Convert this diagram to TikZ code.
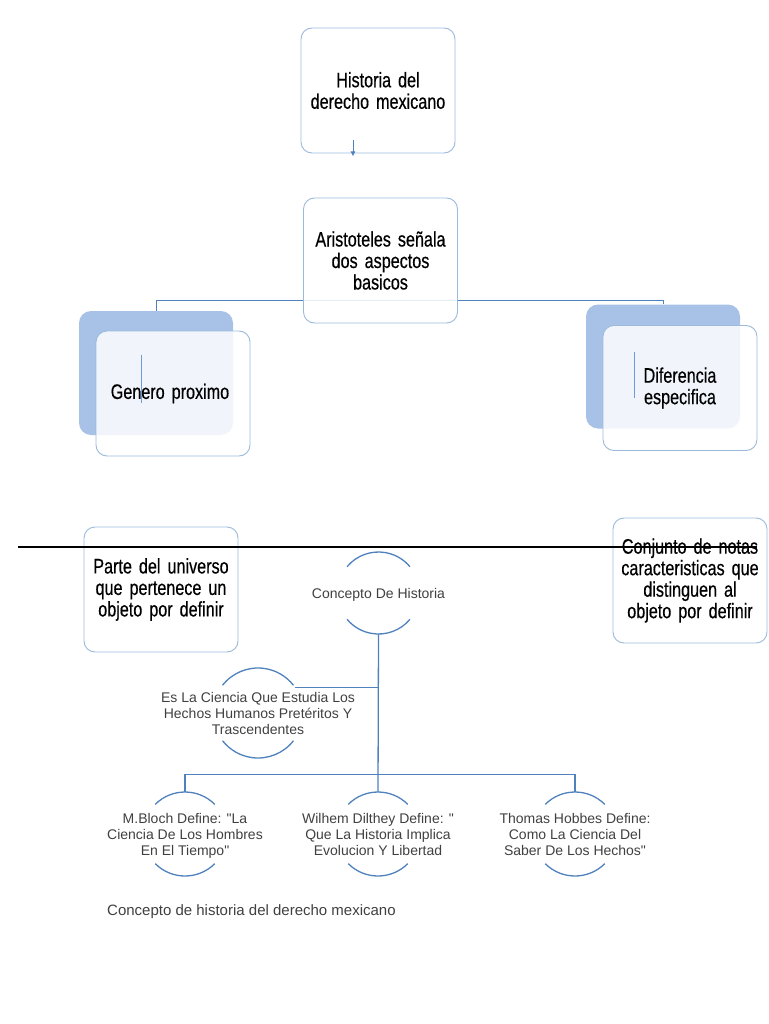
\documentclass[tikz,border=0pt]{standalone}
\usetikzlibrary{arrows.meta}
\usepackage{fontspec}
\setmainfont{Liberation Sans}
\newfontfamily\narrowfont[FakeStretch=0.77,FakeBold=0.4]{Liberation Sans}
\definecolor{boxborder}{HTML}{9BBADC}
\definecolor{shadefill}{HTML}{A7C2E6}
\definecolor{linkblue}{HTML}{4F81BD}
\definecolor{textgray}{HTML}{404040}
\definecolor{cursorblue}{HTML}{6E9BD3}
\newcommand{\ctxt}[1]{\smash{\raisebox{-6pt}{\makebox[0pt]{\begin{tabular}{@{}c@{}}#1\end{tabular}}}}}
\newcommand{\boxfont}{\narrowfont\fontsize{21}{21.5}\selectfont\fontdimen2\font=3.8pt\relax}
\begin{document}
\begin{tikzpicture}[x=1pt,y=-1pt,
  box/.style={draw=boxborder, line width=0.9pt, rounded corners=11pt, fill=white, fill opacity=0.85, text opacity=1,
    minimum width=154pt, minimum height=125pt, align=center, inner sep=0pt, text width=150pt,
    font=\boxfont},
  shadowbox/.style={fill=shadefill, draw=none, rounded corners=12pt, minimum width=154pt, minimum height=124pt},
  circ/.style={circle, minimum size=84pt, inner sep=0pt, text=textgray,
    font=\fontsize{14}{15.7}\selectfont},
  conn/.style={draw=linkblue, line width=1.3pt},
  arcline/.style={draw=linkblue, line width=1.3pt},
  cursor/.style={draw=cursorblue, line width=1pt}
]
\useasboundingbox (0,0) rectangle (768,1024);

% top box
\node[box] (h1) at (378,90.5) {Historia del\\derecho mexicano};
\coordinate (a1) at (353,140);
\draw[linkblue, line width=0.9pt, -{Latex[length=5pt,width=5pt]}] (a1) -- ([yshift=-3pt]a1 |- h1.south);

% shadows
\node[shadowbox] (gshadow) at (156,373) {};
\node[shadowbox] (dshadow) at (663,366.5) {};

% connector from Aristoteles
\draw[linkblue, line width=0.9pt] (gshadow.north) -- ++(0,-10) -| (dshadow.north);

\node[box] (h2) at (380.5,260.5) {Aristoteles señala\\dos aspectos\\basicos};

% front boxes
\node[box] (gfront) at (173,393.5) {\hspace*{-6pt}Genero proximo};
\node[box] (dfront) at (680,388) {Diferencia\\especifica};
\draw[cursor] (141,355) -- (141,403);
\draw[cursor] (634,352) -- (634,398);

% definitions
\node[box] (parte) at (161,589.5) {Parte del universo\\que pertenece un\\objeto por definir};
\node[box] (conj) at (690,580.5) {Conjunto de notas\\caracteristicas que\\distinguen al\\objeto por definir};

% black line
\coordinate (bl1) at (18,547);
\coordinate (bl2) at (757,547);
\draw[black, line width=1.8pt] (bl1) -- (bl2);

% concept circles
\node[circ, minimum size=82pt] (c0) at (378.5,593) {\ctxt{Concepto De Historia}};
\node[circ, minimum size=90pt] (ce) at (258,713) {\ctxt{Es La Ciencia Que Estudia Los\\Hechos Humanos Pretéritos Y\\Trascendentes}};
\node[circ] (c1) at (185,834) {\ctxt{M.Bloch Define: \textquotedbl La\\Ciencia De Los Hombres\\En El Tiempo\textquotedbl}};
\node[circ] (c2) at (378,834) {\ctxt{Wilhem Dilthey Define: \textquotedbl\\Que La Historia Implica\\Evolucion Y Libertad}};
\node[circ] (c3) at (575,834) {\ctxt{Thomas Hobbes Define:\\Como La Ciencia Del\\Saber De Los Hechos\textquotedbl}};

% arcs
\draw[arcline] (c0.center) ++(40:41) arc (40:140:41);
\draw[arcline] (c0.center) ++(220:41) arc (220:320:41);
\draw[arcline] (ce.center) ++(38:45) arc (38:142:45);
\draw[arcline] (ce.center) ++(218:45) arc (218:322:45);
\foreach \c in {c1,c2,c3}{
  \draw[arcline] (\c.center) ++(45:42) arc (45:135:42);
  \draw[arcline] (\c.center) ++(225:42) arc (225:315:42);
}

% connectors
\draw[conn] (c0.south) -- (c2.north);
\draw[conn] (ce.34) -- (ce.34 -| c0.south);
\draw[conn] (c1.north) -- ++(0,-17) -| (c3.north);

% caption
\node[anchor=west, text=textgray, font=\fontsize{15}{17}\selectfont, inner sep=0pt] (cap) at (107,912) {Concepto de historia del derecho mexicano};
\end{tikzpicture}
\end{document}
